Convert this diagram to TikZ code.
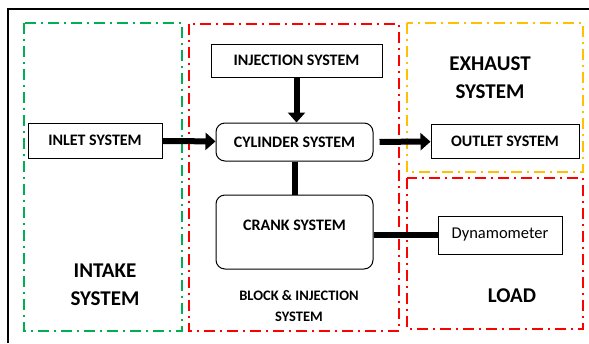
\documentclass[tikz,border=0pt]{standalone}
\usepackage{fontspec}
\setmainfont{Carlito}
\usetikzlibrary{arrows.meta}
\definecolor{intakegreen}{RGB}{0,176,80}
\definecolor{exhaustyellow}{RGB}{255,192,0}
\tikzstyle{system} = [rectangle, inner sep=0pt, text centered, draw=black, line width=1pt, fill=white, font=\bfseries\fontsize{16}{19}\selectfont]
\tikzstyle{engine} = [system, rounded corners=9pt]
\tikzstyle{plain} = [system, font=\fontsize{16.5}{19}\selectfont]
\tikzstyle{heading} = [align=center, font=\bfseries\fontsize{21}{28}\selectfont]
\tikzstyle{region} = [line width=2.5pt, dash pattern=on 11pt off 5pt on 2pt off 5pt]
\tikzstyle{arrow} = [line width=6pt, -{Triangle[length=10pt,width=17pt]}]
\tikzstyle{link} = [line width=6pt]

\begin{document}
\begin{tikzpicture}[x=1pt, y=-1pt]
\useasboundingbox (0,0) rectangle (589,343);
\draw [line width=2pt] (8,343) -- (8,9) -- (589,9);

% regions
\draw [region, intakegreen] (24,23) rectangle (182,331);
\draw [region, red] (189,24) rectangle (399,331);
\draw [region, exhaustyellow] (407,23) rectangle (583,172);
\draw [region, red] (407,178) rectangle (583,329);

\node (intake) [heading] at (105,285) {INTAKE\\SYSTEM};
\node (block) [heading, font=\bfseries\fontsize{14.5}{21}\selectfont] at (299,306) {BLOCK \& INJECTION\\SYSTEM};
\node (exhaust) [heading] at (490,78) {EXHAUST\\SYSTEM};
\node (load) [heading] at (512,296) {LOAD};

% blocks
\node (inlet) [system, minimum width=134pt, minimum height=35pt] at (95,140.5) {INLET SYSTEM};
\node (injection) [system, minimum width=171pt, minimum height=33pt] at (296.5,60.5) {INJECTION SYSTEM};
\node (cylinder) [engine, minimum width=157pt, minimum height=38pt] at (294.5,142) {CYLINDER SYSTEM};
\node (outlet) [system, minimum width=148pt, minimum height=34pt] at (505,141.5) {OUTLET SYSTEM};
\node (crank) [engine, minimum width=157pt, minimum height=74pt, text depth=14pt] at (294.5,232) {CRANK SYSTEM};
\node (dyno) [plain, minimum width=124pt, minimum height=38pt] at (500,235) {Dynamometer};

\draw [arrow] (inlet) -- (cylinder);
\draw [arrow] (injection.south) -- (injection.south |- cylinder.north);
\draw [arrow, shorten <=6pt] (cylinder) -- (outlet);
\draw [link] (cylinder) -- (crank);
\draw [link] (crank.east |- dyno.west) -- (dyno.west);

\end{tikzpicture}
\end{document}
